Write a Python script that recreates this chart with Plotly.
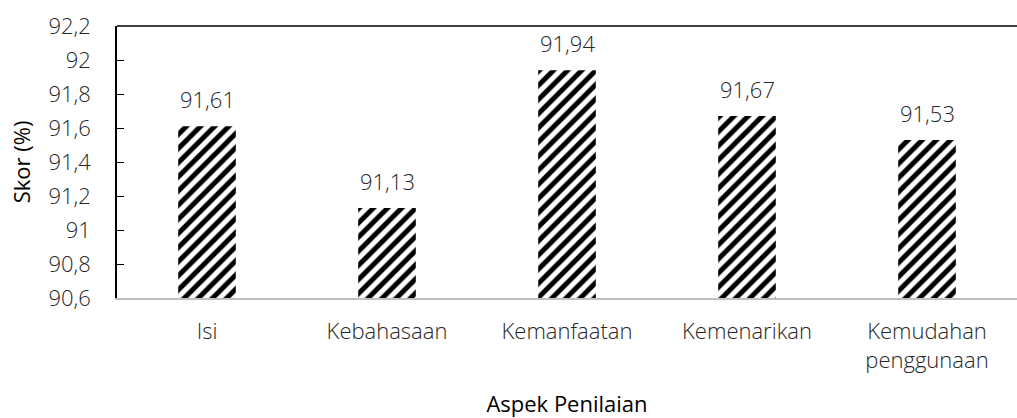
import plotly.graph_objects as go

categories = ["Isi", "Kebahasaan", "Kemanfaatan", "Kemenarikan", "Kemudahan<br>penggunaan"]
values = [91.61, 91.13, 91.94, 91.67, 91.53]
value_labels = ["91,61", "91,13", "91,94", "91,67", "91,53"]
y_tickvals = [90.6, 90.8, 91.0, 91.2, 91.4, 91.6, 91.8, 92.0, 92.2]
y_ticktext = ["90,6", "90,8", "91", "91,2", "91,4", "91,6", "91,8", "92", "92,2"]

FONT = "Open Sans"
TXT = "#262626"
FS = 22

fig = go.Figure()
fig.add_trace(go.Bar(
    x=categories, y=values, width=0.32,
    marker=dict(color="white", line=dict(width=0),
                pattern=dict(shape="/", size=10, solidity=0.5,
                             fgcolor="black", bgcolor="white", fillmode="replace")),
    hoverinfo="skip",
))

for c, v, t in zip(categories, values, value_labels):
    fig.add_annotation(x=c, y=v, text=t, showarrow=False, yshift=27,
                       font=dict(family=FONT, size=FS, color=TXT, weight=300))

fig.add_shape(type="line", xref="paper", yref="paper", x0=0, x1=1, y0=1, y1=1,
              line=dict(color="black", width=1.5))

fig.update_layout(
    width=1017, height=418,
    margin=dict(l=117, r=0, t=26, b=120),
    paper_bgcolor="white", plot_bgcolor="white",
    showlegend=False,
    font=dict(family=FONT, size=FS, color=TXT),
    xaxis=dict(showline=True, linecolor="#bfbfbf", linewidth=2, showgrid=False,
               ticks="", ticklabelstandoff=13,
               tickfont=dict(family=FONT, size=FS, color=TXT, weight=300),
               title=dict(text="Aspek Penilaian", standoff=28,
                          font=dict(family=FONT, size=22, color="black", weight=500))),
    yaxis=dict(range=[90.6, 92.2], tickvals=y_tickvals, ticktext=y_ticktext,
               showline=True, linecolor="black", linewidth=1.5, showgrid=False,
               ticks="inside", ticklen=7, tickcolor="black", tickwidth=1,
               ticklabelstandoff=20,
               tickfont=dict(family=FONT, size=FS, color=TXT, weight=300), zeroline=False,
               title=dict(text="Skor (%)", standoff=12,
                          font=dict(family=FONT, size=22, color="black", weight=500))),
)

fig.write_html("out.html")
